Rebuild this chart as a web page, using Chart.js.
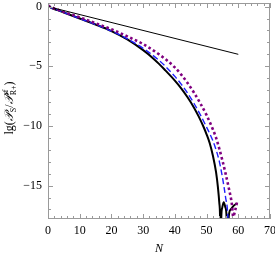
<!DOCTYPE html>
<html>
<head>
<meta charset="utf-8">
<script src="https://cdn.jsdelivr.net/npm/chart.js@4/dist/chart.umd.min.js"></script>
<style>
  html, body { margin: 0; padding: 0; background: #fff; }
  #wrap { width: 275px; height: 256px; }
</style>
</head>
<body>
<div id="wrap"><canvas id="chart"></canvas></div>
<script>
// ====== Datos ======
const xTicks = [0, 10, 20, 30, 40, 50, 60, 70];
const yTicks = [-15, -10, -5, 0];

const nLine = [0, 60];
const lgLine = [0, -4];

const nBlack = [0, 1, 3, 5, 10, 15, 20, 25, 30, 33, 35, 37, 40, 42, 44, 46, 47.5, 49, 50, 51, 52, 53, 53.6, 54, 54.25, 54.45, 54.65, 54.9, 55.4, 55.9, 56.3, 56.65, 57, 57.6, 58.5, 59.5];
const lgBlack = [0.1, -0.1, -0.3, -0.5, -1.0, -1.5, -2.05, -2.75, -3.65, -4.3, -4.8, -5.35, -6.2, -6.85, -7.6, -8.45, -9.2, -10.05, -10.7, -11.45, -12.5, -13.9, -15.2, -16.4, -17.6, -22, -17.6, -16.9, -16.4, -16.8, -17.6, -22, -17.6, -17.0, -16.7, -16.5];

const nBlue = [0, 1, 3, 5, 10, 15, 20, 25, 30, 35, 37, 40, 42, 44, 46, 48, 50, 51, 52, 53, 54, 55, 56, 56.7, 57.3];
const lgBlue = [0.1, -0.1, -0.3, -0.5, -1.0, -1.5, -2.05, -2.7, -3.5, -4.5, -5.0, -5.85, -6.5, -7.25, -8.1, -9.05, -10.1, -10.65, -11.25, -12.0, -12.95, -14.3, -16.0, -17.5, -22];

const nPurple = [0, 1, 3, 5, 10, 15, 20, 25, 30, 35, 40, 42, 44, 46, 48, 50, 52, 53, 54, 55, 56, 57, 58, 58.4, 59, 59.6];
const lgPurple = [0.1, -0.05, -0.25, -0.45, -0.9, -1.4, -1.9, -2.5, -3.15, -4.0, -5.1, -5.7, -6.4, -7.2, -8.1, -9.1, -10.3, -11.0, -11.9, -12.9, -14.0, -15.2, -16.6, -17.6, -17.1, -16.4];

// ====== Utilidades ======
const pts = (xs, ys) => xs.map((x, i) => ({ x, y: ys[i] }));
const fmt = v => (v < 0 ? '\u2212' + Math.abs(v) : String(v));
const SERIF = '"Liberation Serif", "DejaVu Serif", serif';
const FRAME = '#9a9a9a';

// ticks hacia adentro en los cuatro lados
const innerTicks = {
  id: 'innerTicks',
  afterDraw(chart) {
    const { ctx, chartArea: a, scales: { x, y } } = chart;
    ctx.save();
    ctx.strokeStyle = FRAME;
    ctx.lineWidth = 1;
    ctx.beginPath();
    for (let v = 0; v <= 70; v += 2) {
      const px = Math.round(x.getPixelForValue(v)) + 0.5;
      const len = v % 10 === 0 ? 5 : 3;
      ctx.moveTo(px, a.bottom); ctx.lineTo(px, a.bottom - len);
      ctx.moveTo(px, a.top); ctx.lineTo(px, a.top + len);
    }
    for (let v = -17; v <= 0; v += 1) {
      const py = Math.round(y.getPixelForValue(v)) + 0.5;
      const len = v % 5 === 0 ? 5 : 3;
      ctx.moveTo(a.left, py); ctx.lineTo(a.left + len, py);
      ctx.moveTo(a.right, py); ctx.lineTo(a.right - len, py);
    }
    ctx.stroke();
    ctx.strokeRect(a.left + 0.5, a.top + 0.5, a.right - a.left - 1, a.bottom - a.top - 1);
    ctx.restore();
  }
};

// título del eje y con sub/superíndices
const yTitle = {
  id: 'yTitle',
  afterDraw(chart) {
    const { ctx } = chart;
    const big = '12px ' + SERIF;
    const small = '8px ' + SERIF;
    const parts = [
      { t: 'lg(', f: big, dy: 0 },
      { t: '\u{1D4AB}', f: 'italic ' + big, dy: 0 },
      { t: 'S', f: small, dy: 3 },
      { t: '/', f: big, dy: 0 },
      { t: '\u{1D4AB}', f: 'italic ' + big, dy: 0 },
      { t: 'sf', f: small, dy: -5, keep: true },
      { t: 'R+', f: small, dy: 3 },
      { t: ')', f: big, dy: 0 }
    ];
    let total = 0;
    const widths = parts.map(p => { ctx.font = p.f; return ctx.measureText(p.t).width; });
    parts.forEach((p, i) => { if (!p.keep) total += widths[i]; });
    ctx.save();
    ctx.translate(13, 108);
    ctx.rotate(-Math.PI / 2);
    ctx.fillStyle = '#000';
    ctx.textBaseline = 'alphabetic';
    let xx = -total / 2;
    parts.forEach((p, i) => {
      ctx.font = p.f;
      ctx.fillText(p.t, xx, p.dy);
      if (!p.keep) xx += widths[i];
    });
    ctx.restore();
  }
};

new Chart(document.getElementById('chart'), {
  type: 'line',
  data: {
    datasets: [
      { data: pts(nLine, lgLine), borderColor: '#000', borderWidth: 1, pointRadius: 0, tension: 0 },
      { data: pts(nPurple, lgPurple), borderColor: '#800080', borderWidth: 2.6, borderDash: [2.6, 2.6], pointRadius: 0, cubicInterpolationMode: 'monotone' },
      { data: pts(nBlue, lgBlue), borderColor: '#1f1fff', borderWidth: 1.4, borderDash: [6, 3], pointRadius: 0, cubicInterpolationMode: 'monotone' },
      { data: pts(nBlack, lgBlack), borderColor: '#000', borderWidth: 2, pointRadius: 0, cubicInterpolationMode: 'monotone' }
    ]
  },
  options: {
    responsive: true,
    maintainAspectRatio: false,
    animation: false,
    layout: { padding: { left: 0, right: 5, top: 3, bottom: 0 } },
    plugins: { legend: { display: false }, tooltip: { enabled: false } },
    scales: {
      x: {
        type: 'linear', min: 0, max: 70,
        grid: { display: false, drawTicks: false },
        border: { display: false },
        afterBuildTicks: s => { s.ticks = xTicks.map(value => ({ value })); },
        afterFit: s => { s.height = 37; s.paddingLeft = 0; s.paddingRight = 0; },
        ticks: { color: '#000', padding: 5, maxRotation: 0, font: { family: SERIF, size: 12 }, callback: v => fmt(v) },
        title: { display: true, text: 'N', color: '#000', padding: { top: 2, bottom: 0 }, font: { family: SERIF, size: 12, style: 'italic' } }
      },
      y: {
        min: -17.8, max: 0.3,
        grid: { display: false, drawTicks: false },
        border: { display: false },
        afterBuildTicks: s => { s.ticks = yTicks.map(value => ({ value })); },
        afterFit: s => { s.width = 48; s.paddingTop = 0; s.paddingBottom = 0; },
        ticks: { color: '#000', padding: 6, font: { family: SERIF, size: 12 }, callback: v => fmt(v) }
      }
    }
  },
  plugins: [innerTicks, yTitle]
});
</script>
</body>
</html>
